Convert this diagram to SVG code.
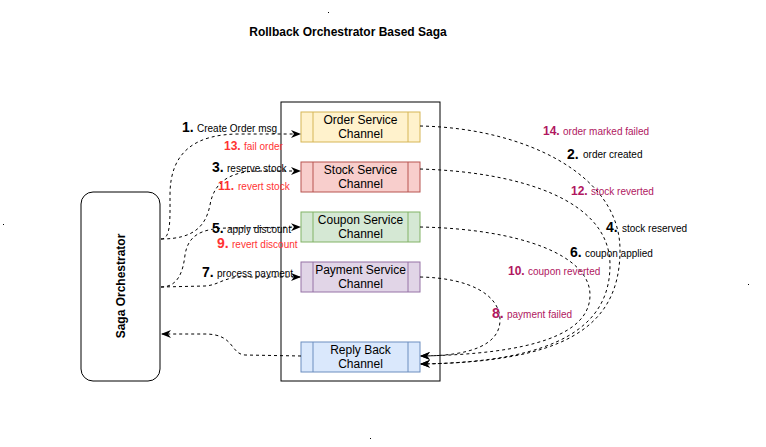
<svg xmlns="http://www.w3.org/2000/svg" width="766" height="447" viewBox="0 0 766 447">
<style>
text{font-family:"Liberation Sans",Arial,sans-serif}
.t{font-size:12px;fill:#000;text-anchor:middle}
.b{font-weight:bold}
.n{font-size:14px;font-weight:bold;fill:#000}
.n2{font-size:12px;font-weight:bold}
.l{font-size:10px;fill:#000}
.red{fill:#ff3333}
.mag{fill:#b0175f}
.e{fill:none;stroke:#000;stroke-width:1;stroke-dasharray:3 3}
.ch{stroke-width:1}
</style>
<defs>
<marker id="ah" markerWidth="10" markerHeight="8" refX="9" refY="4" orient="auto" markerUnits="userSpaceOnUse">
<path d="M0,0 L10,4 L0,8 L3,4 z" fill="#000"/>
</marker>
</defs>
<rect width="766" height="447" fill="#fff"/>
<rect x="328" y="12" width="1" height="1" fill="#000"/>
<rect x="3" y="224" width="1" height="1" fill="#000"/>
<rect x="748" y="284" width="1" height="1" fill="#000"/>
<rect x="370" y="438" width="1" height="1" fill="#000"/>
<text class="t b" x="348" y="36">Rollback Orchestrator Based Saga</text>

<g id="orchestrator">
<rect x="81" y="192" width="79" height="189" rx="12" fill="#fff" stroke="#000"/>
<text class="t b" transform="translate(124.5,286) rotate(-90)" x="0" y="0">Saga Orchestrator</text>
</g>

<g id="container">
<rect x="281" y="102" width="159" height="279" fill="#fff" stroke="#000"/>
</g>

<g id="order-channel">
<rect x="301" y="112" width="119" height="30" fill="#fff2cc" stroke="#d6b656"/>
<line x1="313" y1="112" x2="313" y2="142" stroke="#d6b656"/>
<line x1="408" y1="112" x2="408" y2="142" stroke="#d6b656"/>
<text class="t" x="360.5" y="124">Order Service</text>
<text class="t" x="360.5" y="138">Channel</text>
</g>
<g id="stock-channel">
<rect x="301" y="162" width="119" height="30" fill="#f8cecc" stroke="#b85450"/>
<line x1="313" y1="162" x2="313" y2="192" stroke="#b85450"/>
<line x1="408" y1="162" x2="408" y2="192" stroke="#b85450"/>
<text class="t" x="360.5" y="174">Stock Service</text>
<text class="t" x="360.5" y="188">Channel</text>
</g>
<g id="coupon-channel">
<rect x="301" y="212" width="119" height="30" fill="#d5e8d4" stroke="#82b366"/>
<line x1="313" y1="212" x2="313" y2="242" stroke="#82b366"/>
<line x1="408" y1="212" x2="408" y2="242" stroke="#82b366"/>
<text class="t" x="360.5" y="224">Coupon Service</text>
<text class="t" x="360.5" y="238">Channel</text>
</g>
<g id="payment-channel">
<rect x="301" y="262" width="119" height="30" fill="#e1d5e7" stroke="#9673a6"/>
<line x1="313" y1="262" x2="313" y2="292" stroke="#9673a6"/>
<line x1="408" y1="262" x2="408" y2="292" stroke="#9673a6"/>
<text class="t" x="360.5" y="274">Payment Service</text>
<text class="t" x="360.5" y="288">Channel</text>
</g>
<g id="reply-channel">
<rect x="301" y="342" width="119" height="30" fill="#dae8fc" stroke="#6c8ebf"/>
<line x1="313" y1="342" x2="313" y2="372" stroke="#6c8ebf"/>
<line x1="408" y1="342" x2="408" y2="372" stroke="#6c8ebf"/>
<text class="t" x="360.5" y="354">Reply Back</text>
<text class="t" x="360.5" y="368">Channel</text>
</g>

<g id="connectors">
<path class="e" marker-end="url(#ah)" d="M161,239 C171,239 170,220 170,195 C170,152 195,134 240,134 L300,134"/>
<path class="e" marker-end="url(#ah)" d="M161,239 C195,239 206,225 210,205 C214,182 230,171 260,171 L300,171"/>
<path class="e" marker-end="url(#ah)" d="M161,287 C178,287 183,272 185,255 C188,236 200,228 230,228 L300,227"/>
<path class="e" marker-end="url(#ah)" d="M161,287 L205,286 C220,285 222,277 245,277 L300,277"/>
<path class="e" marker-end="url(#ah)" d="M420,126 C525,128 620,175 620,250 C620,330 560,362 421,364"/>
<path class="e" marker-end="url(#ah)" d="M420,169 C520,172 610,200 610,265 C610,325 560,362 421,364"/>
<path class="e" marker-end="url(#ah)" d="M420,227 C520,229 590,255 590,295 C590,335 530,354 421,356"/>
<path class="e" marker-end="url(#ah)" d="M420,277 C470,278 500,295 500,320 C500,345 470,356 421,356"/>
<path class="e" marker-end="url(#ah)" d="M301,356 L245,355 C230,354 235,334 205,334 L162,334"/>
</g>

<g id="labels">
<text class="n" x="182" y="132">1.</text><text class="l" x="197" y="132">Create Order msg</text>
<text class="n2 red" x="224" y="150">13.</text><text class="l red" x="244" y="150">fail order</text>
<text class="n" x="212" y="172">3.</text><text class="l" x="227" y="172">reserve stock</text>
<text class="n2 red" x="218" y="190">11.</text><text class="l red" x="238" y="190">revert stock</text>
<text class="n" x="212" y="233">5.</text><text class="l" x="227" y="233">apply discount</text>
<text class="n red" x="217" y="248">9.</text><text class="l red" x="232" y="248">revert discount</text>
<text class="n" x="202" y="277">7.</text><text class="l" x="217" y="277">process payment</text>
<text class="n2 mag" x="543" y="135">14.</text><text class="l mag" x="563" y="135">order marked failed</text>
<text class="n" x="567" y="159">2.</text><text class="l" x="583" y="158">order created</text>
<text class="n2 mag" x="571" y="195">12.</text><text class="l mag" x="591" y="195">stock reverted</text>
<text class="n" x="606" y="232">4.</text><text class="l" x="622" y="232">stock reserved</text>
<text class="n" x="570" y="257">6.</text><text class="l" x="585" y="257">coupon applied</text>
<text class="n2 mag" x="508" y="275">10.</text><text class="l mag" x="528" y="275">coupon reverted</text>
<text class="n mag" x="492" y="318">8.</text><text class="l mag" x="507" y="318">payment failed</text>
</g>
</svg>
